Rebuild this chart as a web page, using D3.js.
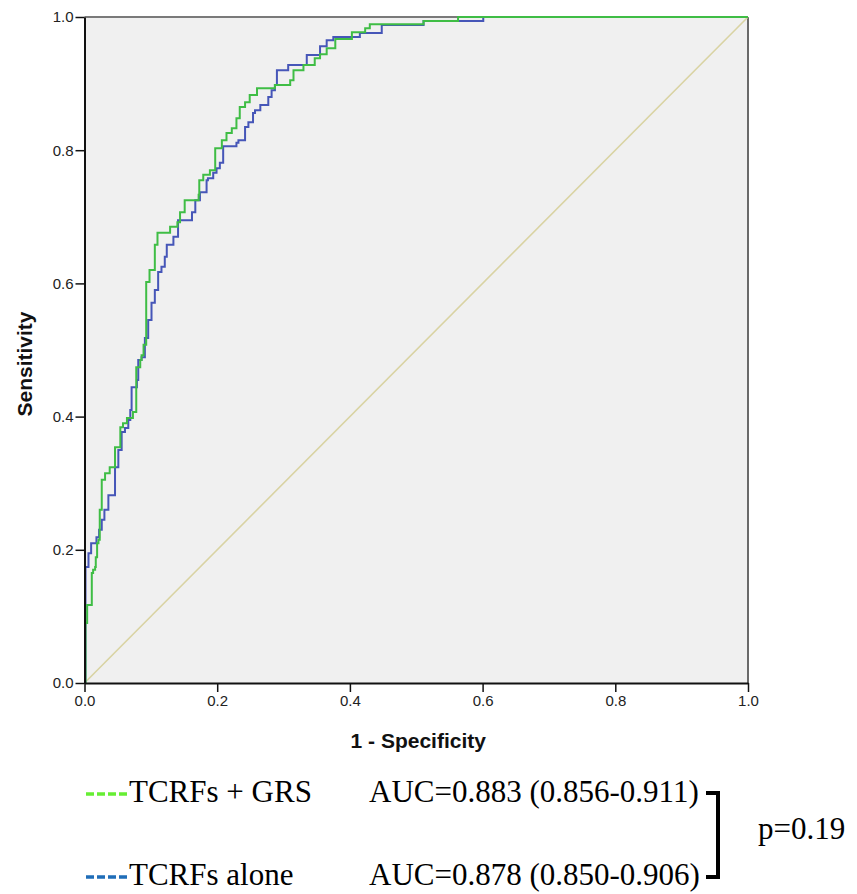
<!DOCTYPE html>
<html>
<head>
<meta charset="utf-8">
<script src="https://cdn.jsdelivr.net/npm/d3@7"></script>
<style>
  body { margin: 0; background: #fff; }
  svg { display: block; }
  .tick text { font-family: "Liberation Sans", Arial, sans-serif; font-size: 15px; fill: #222; }
</style>
</head>
<body>
<svg id="chart" width="857" height="894"></svg>
<script>
// ROC curve corners: [1 - specificity, sensitivity]
var grsCurve = [
  [0, 0], [0.0015, 0.090], [0.004, 0.117], [0.011, 0.165], [0.013, 0.170], [0.016, 0.174],
  [0.017, 0.189], [0.019, 0.210], [0.021, 0.215], [0.023, 0.260], [0.026, 0.305], [0.031, 0.315],
  [0.038, 0.324], [0.046, 0.354], [0.054, 0.384], [0.058, 0.390], [0.064, 0.398], [0.073, 0.407],
  [0.078, 0.474], [0.084, 0.485], [0.086, 0.492], [0.089, 0.508], [0.093, 0.602], [0.098, 0.620],
  [0.106, 0.658], [0.110, 0.676], [0.129, 0.685], [0.140, 0.692], [0.144, 0.707], [0.151, 0.725],
  [0.172, 0.733], [0.173, 0.755], [0.179, 0.763], [0.189, 0.770], [0.197, 0.803], [0.207, 0.815],
  [0.214, 0.826], [0.222, 0.833], [0.229, 0.848], [0.234, 0.865], [0.242, 0.872], [0.249, 0.883],
  [0.260, 0.893], [0.287, 0.898], [0.310, 0.905], [0.315, 0.920], [0.330, 0.928], [0.347, 0.938],
  [0.355, 0.944], [0.365, 0.953], [0.378, 0.967], [0.403, 0.977], [0.423, 0.983], [0.430, 0.989],
  [0.511, 0.994], [0.563, 1], [1, 1]
];
var aloneCurve = [
  [0, 0], [0.0015, 0.174], [0.006, 0.195], [0.010, 0.210], [0.018, 0.219], [0.022, 0.230],
  [0.026, 0.245], [0.030, 0.260], [0.036, 0.282], [0.046, 0.324], [0.051, 0.350], [0.056, 0.377],
  [0.061, 0.383], [0.066, 0.395], [0.069, 0.410], [0.071, 0.444], [0.079, 0.455], [0.081, 0.485],
  [0.086, 0.489], [0.091, 0.518], [0.096, 0.545], [0.101, 0.571], [0.106, 0.590], [0.111, 0.617],
  [0.116, 0.625], [0.121, 0.640], [0.124, 0.658], [0.134, 0.670], [0.141, 0.695], [0.162, 0.707],
  [0.167, 0.725], [0.174, 0.737], [0.184, 0.755], [0.186, 0.758], [0.194, 0.766], [0.199, 0.773],
  [0.204, 0.781], [0.209, 0.806], [0.229, 0.811], [0.232, 0.815], [0.242, 0.835], [0.247, 0.842],
  [0.254, 0.856], [0.257, 0.860], [0.265, 0.868], [0.277, 0.880], [0.282, 0.890], [0.287, 0.898],
  [0.290, 0.920], [0.307, 0.928], [0.335, 0.943], [0.355, 0.956], [0.365, 0.965], [0.375, 0.970],
  [0.415, 0.976], [0.448, 0.988], [0.511, 0.994], [0.601, 1], [1, 1]
];
var tickValues = [0, 0.2, 0.4, 0.6, 0.8, 1.0];
var legendNames = ["TCRFs + GRS", "TCRFs alone"];
var legendAUC = ["AUC=0.883 (0.856-0.911)", "AUC=0.878 (0.850-0.906)"];
var pValue = "p=0.19";

var margin = { top: 17, left: 84.5 };
var W = 663.5, H = 666;

var svg = d3.select("#chart");
var g = svg.append("g").attr("transform", "translate(" + margin.left + "," + margin.top + ")");

var x = d3.scaleLinear().domain([0, 1]).range([0, W]);
var y = d3.scaleLinear().domain([0, 1]).range([H, 0]);

// panel background + grey top/right frame
g.append("rect").attr("width", W).attr("height", H).attr("fill", "#f0f0f0");
g.append("line").attr("x1", 0).attr("x2", W).attr("y1", 0).attr("y2", 0)
  .attr("stroke", "#7a7a7a").attr("stroke-width", 2);
g.append("line").attr("x1", W).attr("x2", W).attr("y1", 0).attr("y2", H)
  .attr("stroke", "#6a6a6a").attr("stroke-width", 2);

// reference diagonal
g.append("line")
  .attr("x1", x(0)).attr("y1", y(0)).attr("x2", x(1)).attr("y2", y(1))
  .attr("stroke", "#d9d3a3").attr("stroke-width", 1.6);

var line = d3.line()
  .x(function(d) { return x(d[0]); })
  .y(function(d) { return y(d[1]); })
  .curve(d3.curveStepAfter);

g.append("path").datum(aloneCurve)
  .attr("fill", "none").attr("stroke", "#4656b8").attr("stroke-width", 2)
  .attr("d", line);
g.append("path").datum(grsCurve)
  .attr("fill", "none").attr("stroke", "#3fbd45").attr("stroke-width", 2)
  .attr("d", line);

// axes
var fmt = d3.format(".1f");
var xAxis = g.append("g").attr("transform", "translate(0," + H + ")")
  .call(d3.axisBottom(x).tickValues(tickValues).tickFormat(fmt).tickSize(9).tickPadding(3).tickSizeOuter(0));
var yAxis = g.append("g")
  .call(d3.axisLeft(y).tickValues(tickValues).tickFormat(fmt).tickSize(9).tickPadding(2).tickSizeOuter(0));
[xAxis, yAxis].forEach(function(a) {
  a.select(".domain").attr("stroke", "#111").attr("stroke-width", 2);
  a.selectAll(".tick line").attr("stroke", "#111").attr("stroke-width", 1.5);
});

// axis titles
var sans = "'Liberation Sans', Arial, sans-serif";
svg.append("text")
  .attr("x", margin.left + W / 2 + 2).attr("y", 748)
  .attr("text-anchor", "middle")
  .style("font-family", sans)
  .style("font-weight", "bold").style("font-size", "21px").attr("fill", "#111")
  .text("1 - Specificity");
svg.append("text")
  .attr("transform", "translate(32," + (margin.top + H / 2 + 14) + ") rotate(-90)")
  .attr("text-anchor", "middle")
  .style("font-family", sans)
  .style("font-weight", "bold").style("font-size", "21px").attr("fill", "#111")
  .text("Sensitivity");

// legend
var legendColors = ["#66ee33", "#1f6db8"];
var legendBase = [802, 885];
var serif = "'Liberation Serif', 'Times New Roman', serif";
legendNames.forEach(function(name, i) {
  var by = legendBase[i];
  svg.append("line")
    .attr("x1", 86).attr("x2", 128).attr("y1", by - 8).attr("y2", by - 8)
    .attr("stroke", legendColors[i]).attr("stroke-width", 3.5)
    .attr("stroke-dasharray", "8,3");
  svg.append("text").attr("x", 129).attr("y", by)
    .style("font-family", serif).style("font-size", "31px").attr("fill", "#000")
    .text(name);
  svg.append("text").attr("x", 369).attr("y", by)
    .style("font-family", serif).style("font-size", "31px").attr("fill", "#000")
    .text(legendAUC[i]);
});

// bracket
svg.append("path")
  .attr("d", "M706," + (legendBase[0] - 9) + " H718 V" + (legendBase[1] - 8) + " H706")
  .attr("fill", "none").attr("stroke", "#000").attr("stroke-width", 4);
svg.append("text").attr("x", 758).attr("y", 839)
  .style("font-family", serif).style("font-size", "31px").attr("fill", "#000")
  .text(pValue);
</script>
</body>
</html>
